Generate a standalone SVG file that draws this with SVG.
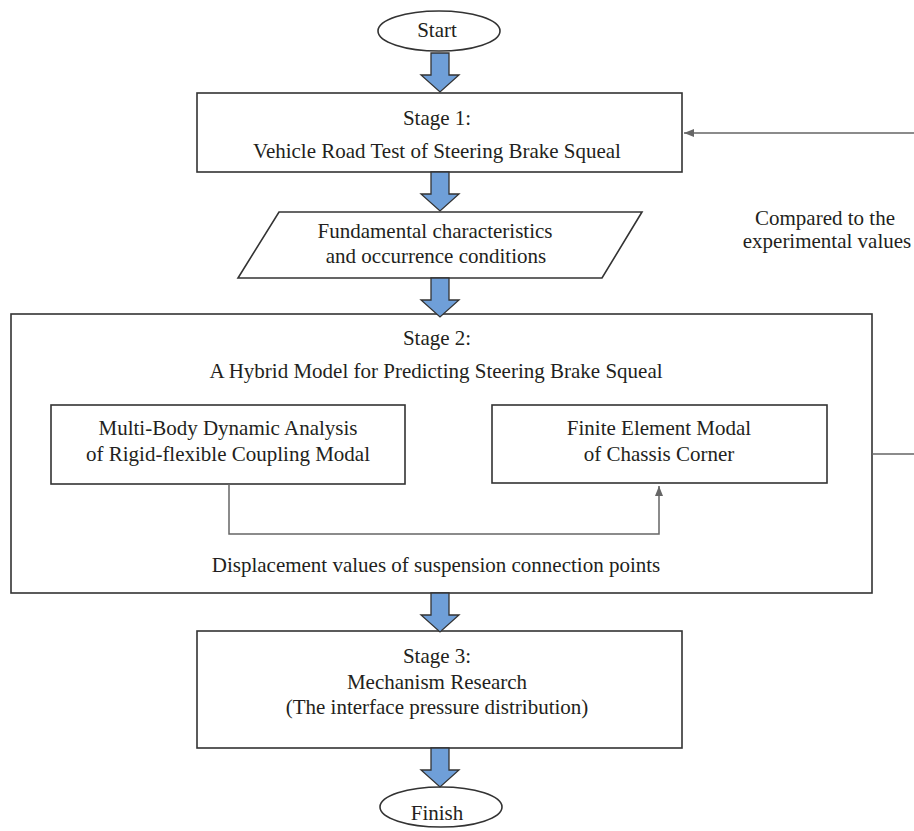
<svg xmlns="http://www.w3.org/2000/svg" width="914" height="831" viewBox="0 0 914 831">
<style>
.box{fill:#fff;stroke:#333;stroke-width:1.6}
.t{font-family:"Liberation Serif",serif;font-size:21px;fill:#231f20;text-anchor:middle}
.blk{fill:#6f9fd8;stroke:#333;stroke-width:1.3;stroke-linejoin:miter}
.con{fill:none;stroke:#666;stroke-width:1.5}
</style>
<defs>
<marker id="ah" markerWidth="10" markerHeight="8" refX="10" refY="4" orient="auto" markerUnits="userSpaceOnUse">
<path d="M0,0 L10,4 L0,8 Z" fill="#666"/>
</marker>
<path id="barrow" d="M-9,0 L9,0 L9,22 L19,22 L0,39 L-19,22 L-9,22 Z"/>
</defs>
<rect width="914" height="831" fill="#fff"/>
<g id="start">
<ellipse class="box" cx="439" cy="31" rx="61" ry="20"/>
<text class="t" x="437" y="37">Start</text>
</g>
<g id="stage1">
<rect class="box" x="197" y="93" width="485" height="79"/>
<text class="t" x="437" y="125">Stage 1:</text>
<text class="t" x="437" y="158">Vehicle Road Test of Steering Brake Squeal</text>
</g>
<g id="fundamental">
<polygon class="box" points="279,212 642,212 602,278 238,278"/>
<text class="t" x="435" y="238">Fundamental characteristics</text>
<text class="t" x="436" y="263">and occurrence conditions</text>
</g>
<g id="stage2">
<rect class="box" x="11" y="314" width="861" height="279"/>
<text class="t" x="437" y="345">Stage 2:</text>
<text class="t" x="436" y="378">A Hybrid Model for Predicting Steering Brake Squeal</text>
<text class="t" x="436" y="572">Displacement values of suspension connection points</text>
</g>
<g id="multibody">
<rect class="box" x="51" y="405" width="354" height="79"/>
<text class="t" x="228" y="435">Multi-Body Dynamic Analysis</text>
<text class="t" x="228" y="461">of Rigid-flexible Coupling Modal</text>
</g>
<g id="finite">
<rect class="box" x="492" y="405" width="335" height="78"/>
<text class="t" x="659" y="435">Finite Element Modal</text>
<text class="t" x="659" y="461">of Chassis Corner</text>
</g>
<g id="stage3">
<rect class="box" x="197" y="631" width="485" height="117"/>
<text class="t" x="437" y="663">Stage 3:</text>
<text class="t" x="437" y="689">Mechanism Research</text>
<text class="t" x="437" y="714">(The interface pressure distribution)</text>
</g>
<g id="finish">
<ellipse class="box" cx="441" cy="807" rx="61" ry="20"/>
<text class="t" x="437" y="820">Finish</text>
</g>
<g id="compared-label">
<text class="t" x="825" y="225">Compared to the</text>
<text class="t" x="827" y="248">experimental values</text>
</g>
<g id="connectors">
<use href="#barrow" class="blk" transform="translate(440,53)"/>
<use href="#barrow" class="blk" transform="translate(440,172)"/>
<use href="#barrow" class="blk" transform="translate(440,278)"/>
<use href="#barrow" class="blk" transform="translate(440,593)"/>
<use href="#barrow" class="blk" transform="translate(440,748)"/>
<path class="con" d="M229,484 L229,534 L659,534 L659,486" marker-end="url(#ah)"/>
<path class="con" d="M872,454 L916,454 L916,133 L684,133" marker-end="url(#ah)"/>
</g>
</svg>
